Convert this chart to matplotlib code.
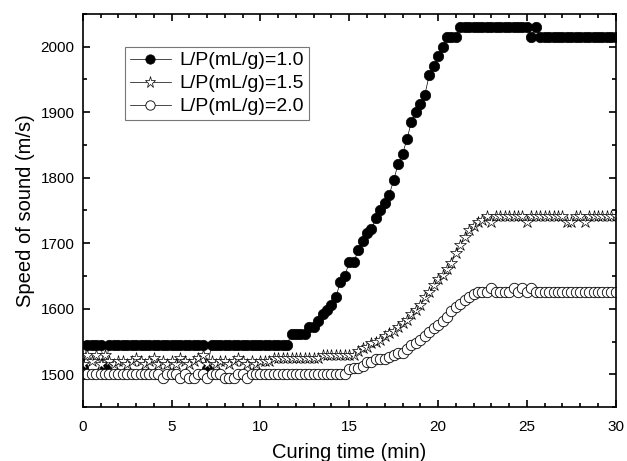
import numpy as np
import matplotlib
matplotlib.use("Agg")
import matplotlib.pyplot as plt
from matplotlib.ticker import MultipleLocator

plt.rcParams['font.family'] = ['Liberation Sans', 'DejaVu Sans']

# time grid, one reading every 15 s
t = np.arange(0, 121) * 0.25

# L/P = 1.0
v10 = ([1510] + [1545] * 4 + [1510] + [1545] * 22 + [1508] + [1545] * 18
       + [1562] * 4 + [1572] * 2
       + [1582, 1592, 1598, 1605, 1618, 1641, 1650, 1671, 1671, 1689,
          1704, 1715, 1722, 1738, 1750, 1762, 1774, 1796, 1821, 1836,
          1859, 1885, 1900, 1913, 1926, 1956, 1970, 1985, 2000]
       + [2015] * 3 + [2030] * 16 + [2015, 2030] + [2015] * 18)

# L/P = 1.5
v15 = ([1515, 1530, 1520, 1530, 1515, 1530, 1520, 1515, 1520, 1520,
        1515, 1520, 1525, 1520, 1515, 1520, 1525, 1515, 1520, 1515,
        1520, 1515, 1525, 1520, 1515, 1520, 1525, 1530, 1515, 1520,
        1515, 1520, 1520, 1515, 1520, 1525, 1520, 1515, 1520, 1515,
        1520, 1520, 1520]
       + [1525] * 11 + [1530] * 8
       + [1536, 1540, 1542, 1547, 1550, 1553, 1558, 1563, 1566, 1572,
          1578, 1583, 1592, 1598, 1605, 1618, 1626, 1636, 1645, 1652,
          1660, 1670, 1685, 1697, 1710, 1720, 1726, 1732, 1736, 1742,
          1732]
       + [1742] * 7 + [1732] + [1742] * 8 + [1732] * 2 + [1742] * 2
       + [1732] + [1742] * 7)

# L/P = 2.0
v20 = ([1500] * 18 + [1494] + [1500] * 3 + [1494, 1500, 1494, 1494, 1500, 1500, 1494]
       + [1500] * 3 + [1494] * 3 + [1500] * 2 + [1494] + [1500] * 22
       + [1508, 1510, 1510, 1512, 1518, 1518, 1524, 1524, 1524, 1526,
          1530, 1532, 1533, 1538, 1545, 1548, 1552, 1558, 1564, 1570,
          1575, 1582, 1588, 1596, 1603, 1608, 1613, 1618, 1622, 1625,
          1625, 1625, 1632, 1625, 1625, 1625, 1625, 1632, 1625, 1632,
          1625, 1632]
       + [1625] * 19)

fig = plt.figure(figsize=(6.27, 4.61), dpi=100)
ax = fig.add_axes([0.132, 0.117, 0.85, 0.853])

ax.plot(t, v10, '-', color='black', lw=0.5, marker='o', ms=7.5,
        mfc='black', mec='black', mew=0.5, label='L/P(mL/g)=1.0')
ax.plot(t, v15, '-', color='black', lw=0.5, marker='*', ms=9,
        mfc='white', mec='black', mew=0.5, label='L/P(mL/g)=1.5')
ax.plot(t, v20, '-', color='black', lw=0.5, marker='o', ms=7.5,
        mfc='white', mec='black', mew=0.6, label='L/P(mL/g)=2.0')

ax.set_xlim(0, 30)
ax.set_ylim(1450, 2050)
ax.xaxis.set_major_locator(MultipleLocator(5))
ax.xaxis.set_minor_locator(MultipleLocator(1))
ax.yaxis.set_major_locator(MultipleLocator(100))
ax.yaxis.set_minor_locator(MultipleLocator(50))
ax.tick_params(which='both', direction='in', top=True, right=True, width=1.2)
ax.tick_params(which='major', length=5, labelsize=11)
ax.tick_params(axis='x', which='major', pad=9)
ax.tick_params(axis='y', which='major', pad=6)
ax.tick_params(which='minor', length=3)
for s in ax.spines.values():
    s.set_linewidth(1.2)

ax.set_xlabel('Curing time (min)', fontsize=14.5, labelpad=7)
ax.set_ylabel('Speed of sound (m/s)', fontsize=14.5, labelpad=4)

leg = ax.legend(loc='upper left', bbox_to_anchor=(0.079, 0.916), borderaxespad=0,
                fontsize=14, frameon=True, fancybox=False, handlelength=2.1,
                handletextpad=0.45, borderpad=0.25, labelspacing=0.28,
                markerscale=0.9)
leg.get_frame().set_edgecolor('#555555')
leg.get_frame().set_linewidth(0.8)

fig.savefig('out.png', dpi=100)
